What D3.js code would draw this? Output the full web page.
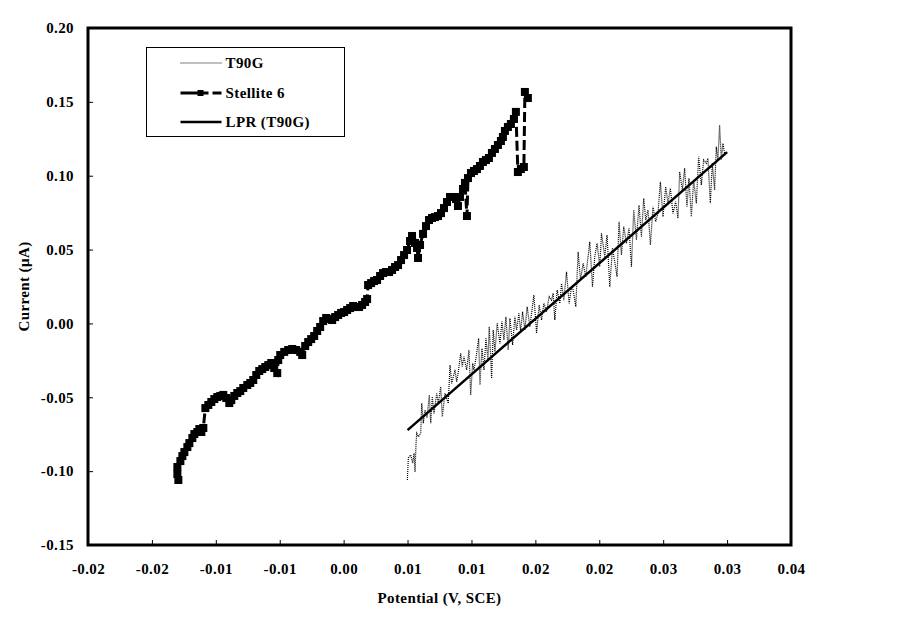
<!DOCTYPE html>
<html>
<head>
<meta charset="utf-8">
<script src="https://cdn.jsdelivr.net/npm/d3@7"></script>
<style>
  body { margin: 0; background: #fff; }
  text { font-family: "Liberation Serif", "Times New Roman", serif; font-weight: bold; letter-spacing: 0.4px; }
</style>
</head>
<body>
<script>
// DATA ––––––––––––––––––––––––––––––––––––––––––––––––––––––––––––––––

var xTicks = [-0.02, -0.015, -0.01, -0.005, 0, 0.005, 0.01, 0.015, 0.02, 0.025, 0.03, 0.035];
var xTickLabels = ["-0.02", "-0.02", "-0.01", "-0.01", "0.00", "0.01", "0.01", "0.02", "0.02", "0.03", "0.03", "0.04"];
var yTicks = [-0.15, -0.10, -0.05, 0, 0.05, 0.10, 0.15, 0.20];
var yTickLabels = ["-0.15", "-0.10", "-0.05", "0.00", "0.05", "0.10", "0.15", "0.20"];

var seriesNames = ["T90G", "Stellite 6", "LPR (T90G)"];

// T90G: potential (V) and current (uA)
var t90gX = [0.004984, 0.005063, 0.005250, 0.005406, 0.005508, 0.005586, 0.005664, 0.005719, 0.005844, 0.006031,
  0.006109, 0.006234, 0.006367, 0.006523, 0.006703, 0.006813, 0.006938, 0.007070, 0.007281, 0.007406,
  0.007594, 0.007719, 0.007930, 0.008188, 0.008320, 0.008453, 0.008711, 0.008844, 0.008969, 0.009156,
  0.009281, 0.009414, 0.009625, 0.009805, 0.009938, 0.010094, 0.010195, 0.010352, 0.010563, 0.010664,
  0.010820, 0.010977, 0.011133, 0.011289, 0.011391, 0.011578, 0.011703, 0.011836, 0.012016, 0.012227,
  0.012383, 0.012539, 0.012695, 0.012875, 0.013008, 0.013219, 0.013398, 0.013531, 0.013711, 0.013844,
  0.014000, 0.014180, 0.014359, 0.014570, 0.014883, 0.015094, 0.015297, 0.015484, 0.015664, 0.015875,
  0.016078, 0.016266, 0.016391, 0.016523, 0.016703, 0.016914, 0.017047, 0.017227, 0.017438, 0.017641,
  0.017828, 0.017953, 0.018164, 0.018344, 0.018531, 0.018734, 0.018945, 0.019258, 0.019469, 0.019648,
  0.019828, 0.020039, 0.020172, 0.020430, 0.020609, 0.020820, 0.021031, 0.021211, 0.021391, 0.021547,
  0.021734, 0.021914, 0.022125, 0.022328, 0.022516, 0.022695, 0.022906, 0.023109, 0.023297, 0.023477,
  0.023633, 0.023813, 0.024000, 0.024203, 0.024414, 0.024594, 0.024781, 0.024984, 0.025195, 0.025375,
  0.025563, 0.025766, 0.025977, 0.026156, 0.026289, 0.026500, 0.026680, 0.026859, 0.027016, 0.027203,
  0.027383, 0.027594, 0.027773, 0.027984, 0.028164, 0.028375, 0.028500, 0.028688, 0.028844, 0.029023,
  0.029156, 0.029281, 0.029414, 0.029547, 0.029672, 0.029805];
var t90gY = [-0.1060, -0.0911, -0.0891, -0.0945, -0.0877, -0.1006, -0.0812, -0.0744, -0.0767, -0.0744,
  -0.0541, -0.0676, -0.0586, -0.0640, -0.0485, -0.0676, -0.0496, -0.0609, -0.0473, -0.0541,
  -0.0429, -0.0632, -0.0473, -0.0541, -0.0282, -0.0406, -0.0315, -0.0395, -0.0329, -0.0202,
  -0.0293, -0.0225, -0.0315, -0.0180, -0.0485, -0.0270, -0.0315, -0.0236, -0.0101, -0.0417,
  -0.0169, -0.0315, -0.0101, -0.0248, -0.0022, -0.0372, -0.0045, -0.0192, 0.0001, -0.0135,
  0.0012, -0.0112, 0.0045, -0.0180, 0.0035, -0.0146, 0.0045, -0.0045, 0.0068, -0.0056,
  0.0079, -0.0045, 0.0113, -0.0022, 0.0192, -0.0067, 0.0125, 0.0023, 0.0136, 0.0079,
  0.0181, 0.0158, 0.0204, 0.0023, 0.0226, 0.0136, 0.0271, 0.0158, 0.0350, 0.0136,
  0.0248, 0.0226, 0.0113, 0.0485, 0.0294, 0.0407, 0.0316, 0.0553, 0.0248, 0.0452,
  0.0542, 0.0384, 0.0610, 0.0452, 0.0598, 0.0248, 0.0508, 0.0418, 0.0316, 0.0689,
  0.0463, 0.0655, 0.0542, 0.0644, 0.0384, 0.0768, 0.0565, 0.0802, 0.0587, 0.0847,
  0.0700, 0.0768, 0.0531, 0.0790, 0.0689, 0.0745, 0.0959, 0.0722, 0.0925, 0.0813,
  0.0915, 0.0745, 0.0824, 0.0712, 0.1027, 0.0903, 0.1050, 0.0790, 0.0982, 0.0722,
  0.0971, 0.0813, 0.1129, 0.0937, 0.1106, 0.1084, 0.1118, 0.0813, 0.1084, 0.0903,
  0.1196, 0.1106, 0.1343, 0.1106, 0.1219, 0.1152];

// Stellite 6: potential (V) and current (uA)
var stelliteX = [-0.012930, -0.013008, -0.013008, -0.012773, -0.012617, -0.012461, -0.012227, -0.012070, -0.011836, -0.011680,
  -0.011445, -0.011289, -0.011133, -0.010977, -0.010820, -0.010586, -0.010352, -0.010117, -0.009883, -0.009648,
  -0.009414, -0.009180, -0.008945, -0.008789, -0.008555, -0.008320, -0.008086, -0.007852, -0.007539, -0.007305,
  -0.007070, -0.006836, -0.006602, -0.006367, -0.006133, -0.005898, -0.005664, -0.005430, -0.005195, -0.005117,
  -0.004961, -0.004648, -0.004336, -0.004023, -0.003711, -0.003398, -0.003242, -0.003008, -0.002773, -0.002539,
  -0.002305, -0.002070, -0.001836, -0.001602, -0.001367, -0.001133, -0.000898, -0.000664, -0.000430, -0.000195,
  0.000039, 0.000273, 0.000508, 0.000742, 0.000977, 0.001211, 0.001445, 0.001680, 0.001836, 0.001914,
  0.002148, 0.002383, 0.002617, 0.002852, 0.003086, 0.003320, 0.003555, 0.003789, 0.004023, 0.004258,
  0.004492, 0.004727, 0.004961, 0.005195, 0.005352, 0.005586, 0.005742, 0.005820, 0.005977, 0.006211,
  0.006445, 0.006680, 0.006914, 0.007148, 0.007383, 0.007617, 0.007852, 0.008086, 0.008320, 0.008555,
  0.008789, 0.008945, 0.009102, 0.009336, 0.009492, 0.009648, 0.009727, 0.009961, 0.010195, 0.010430,
  0.010664, 0.010898, 0.011133, 0.011367, 0.011602, 0.011836, 0.012070, 0.012305, 0.012461, 0.012617,
  0.012852, 0.013086, 0.013320, 0.013477, 0.013633, 0.013867, 0.014102, 0.014180, 0.014414];
var stelliteY = [-0.1060, -0.1020, -0.0972, -0.0932, -0.0898, -0.0871, -0.0837, -0.0810, -0.0776, -0.0749,
  -0.0735, -0.0715, -0.0735, -0.0708, -0.0573, -0.0552, -0.0532, -0.0512, -0.0498, -0.0491,
  -0.0484, -0.0505, -0.0539, -0.0519, -0.0491, -0.0471, -0.0458, -0.0437, -0.0417, -0.0403,
  -0.0383, -0.0349, -0.0322, -0.0309, -0.0295, -0.0282, -0.0268, -0.0302, -0.0336, -0.0248,
  -0.0214, -0.0193, -0.0180, -0.0173, -0.0180, -0.0193, -0.0214, -0.0153, -0.0126, -0.0106,
  -0.0085, -0.0051, -0.0024, 0.0016, 0.0037, 0.0030, 0.0023, 0.0043, 0.0057, 0.0071,
  0.0077, 0.0091, 0.0104, 0.0118, 0.0111, 0.0111, 0.0125, 0.0145, 0.0165, 0.0260,
  0.0273, 0.0287, 0.0294, 0.0321, 0.0341, 0.0348, 0.0348, 0.0362, 0.0382, 0.0395,
  0.0429, 0.0463, 0.0497, 0.0558, 0.0592, 0.0545, 0.0511, 0.0443, 0.0531, 0.0606,
  0.0659, 0.0700, 0.0714, 0.0720, 0.0727, 0.0747, 0.0781, 0.0822, 0.0856, 0.0856,
  0.0842, 0.0795, 0.0856, 0.0910, 0.0951, 0.0727, 0.0984, 0.1018, 0.1032, 0.1045,
  0.1066, 0.1093, 0.1106, 0.1120, 0.1154, 0.1181, 0.1208, 0.1235, 0.1262, 0.1303,
  0.1330, 0.1350, 0.1384, 0.1432, 0.1025, 0.1045, 0.1059, 0.1567, 0.1526];

// LPR fit on T90G
var lprX = [0.005, 0.030];
var lprY = [-0.0722, 0.1160];

// BRAIN –––––––––––––––––––––––––––––––––––––––––––––––––––––––––––––

var zipSeries = function(xs, ys) {
  return xs.map(function(d, i) { return {x: d, y: ys[i]}; });
};

var drawChart = function() {
  let width = 910,
      height = 622,
      plot = {left: 88, right: 791, top: 28, bottom: 545},
      fontSize = "15px",
      markerSize = 8;

  let svg = d3.select("body").append("svg")
      .attr("width", width)
      .attr("height", height);

  let x = d3.scaleLinear()
      .domain([-0.02, 0.035])
      .range([plot.left, plot.right]);

  let y = d3.scaleLinear()
      .domain([-0.15, 0.20])
      .range([plot.bottom, plot.top]);

  // axes
  let xAxis = svg.append("g")
      .attr("transform", "translate(0," + plot.bottom + ")")
      .call(d3.axisBottom(x)
        .tickValues(xTicks)
        .tickFormat(function(d, i) { return xTickLabels[i]; })
        .tickSize(-5)
        .tickPadding(18));

  let yAxis = svg.append("g")
      .attr("transform", "translate(" + plot.left + ",0)")
      .call(d3.axisLeft(y)
        .tickValues(yTicks)
        .tickFormat(function(d, i) { return yTickLabels[i]; })
        .tickSize(-5)
        .tickPadding(14));

  [xAxis, yAxis].forEach(function(g) {
    g.select(".domain").remove();
    g.selectAll("line").attr("stroke", "#000").attr("stroke-width", 1);
    g.selectAll("text")
      .attr("fill", "#000")
      .style("font-family", "'Liberation Serif', 'Times New Roman', serif")
      .style("font-weight", "bold")
      .style("font-size", fontSize);
  });

  // lines
  let line = d3.line()
      .x(function(d) { return x(d.x); })
      .y(function(d) { return y(d.y); });

  let t90g = zipSeries(t90gX, t90gY),
      stellite = zipSeries(stelliteX, stelliteY),
      lpr = zipSeries(lprX, lprY);

  svg.append("path")
      .datum(t90g)
      .attr("fill", "none")
      .attr("stroke", "#000")
      .attr("stroke-width", 1.2)
      .attr("stroke-dasharray", "1,1")
      .attr("d", line);

  svg.append("path")
      .datum(stellite)
      .attr("fill", "none")
      .attr("stroke", "#000")
      .attr("stroke-width", 3)
      .attr("stroke-dasharray", "10,4")
      .attr("d", line);

  svg.append("g").selectAll("rect")
      .data(stellite)
      .enter().append("rect")
      .attr("x", function(d) { return x(d.x) - markerSize / 2; })
      .attr("y", function(d) { return y(d.y) - markerSize / 2; })
      .attr("width", markerSize)
      .attr("height", markerSize)
      .attr("fill", "#000");

  svg.append("path")
      .datum(lpr)
      .attr("fill", "none")
      .attr("stroke", "#000")
      .attr("stroke-width", 2.5)
      .attr("d", line);

  // plot frame
  svg.append("rect")
      .attr("x", plot.left)
      .attr("y", plot.top)
      .attr("width", plot.right - plot.left)
      .attr("height", plot.bottom - plot.top)
      .attr("fill", "none")
      .attr("stroke", "#000")
      .attr("stroke-width", 3);

  // axis titles
  svg.append("text")
      .attr("x", (plot.left + plot.right) / 2)
      .attr("y", 603)
      .attr("text-anchor", "middle")
      .style("font-size", fontSize)
      .text("Potential (V, SCE)");

  svg.append("text")
      .attr("transform", "translate(29," + ((plot.top + plot.bottom) / 2) + ") rotate(-90)")
      .attr("text-anchor", "middle")
      .style("font-size", fontSize)
      .text("Current (\u03bcA)");

  // LEGEND
  let legend = svg.append("g").attr("transform", "translate(146.5,47.5)");

  legend.append("rect")
      .attr("width", 198)
      .attr("height", 89)
      .attr("fill", "#fff")
      .attr("stroke", "#000")
      .attr("stroke-width", 1);

  let rows = [15.5, 45.5, 74.5];

  legend.append("line")
      .attr("x1", 34).attr("x2", 75)
      .attr("y1", rows[0]).attr("y2", rows[0])
      .attr("stroke", "#000")
      .attr("stroke-width", 1)
      .attr("stroke-dasharray", "1,1");

  legend.append("line")
      .attr("x1", 34).attr("x2", 75)
      .attr("y1", rows[1]).attr("y2", rows[1])
      .attr("stroke", "#000")
      .attr("stroke-width", 3)
      .attr("stroke-dasharray", "18,4,6,4,12");

  legend.append("rect")
      .attr("x", 51).attr("y", rows[1] - 3)
      .attr("width", 6).attr("height", 6)
      .attr("fill", "#000");

  legend.append("line")
      .attr("x1", 34).attr("x2", 75)
      .attr("y1", rows[2]).attr("y2", rows[2])
      .attr("stroke", "#000")
      .attr("stroke-width", 2.5);

  legend.selectAll("text.lbl")
      .data(seriesNames)
      .enter().append("text")
      .attr("class", "lbl")
      .attr("x", 79)
      .attr("y", function(d, i) { return rows[i]; })
      .attr("dy", "0.35em")
      .style("font-size", fontSize)
      .text(function(d) { return d; });
};

// RUN –––––––––––––––––––––––––––––––––––––––––––––––––––––––––––––––

drawChart();
</script>
</body>
</html>
